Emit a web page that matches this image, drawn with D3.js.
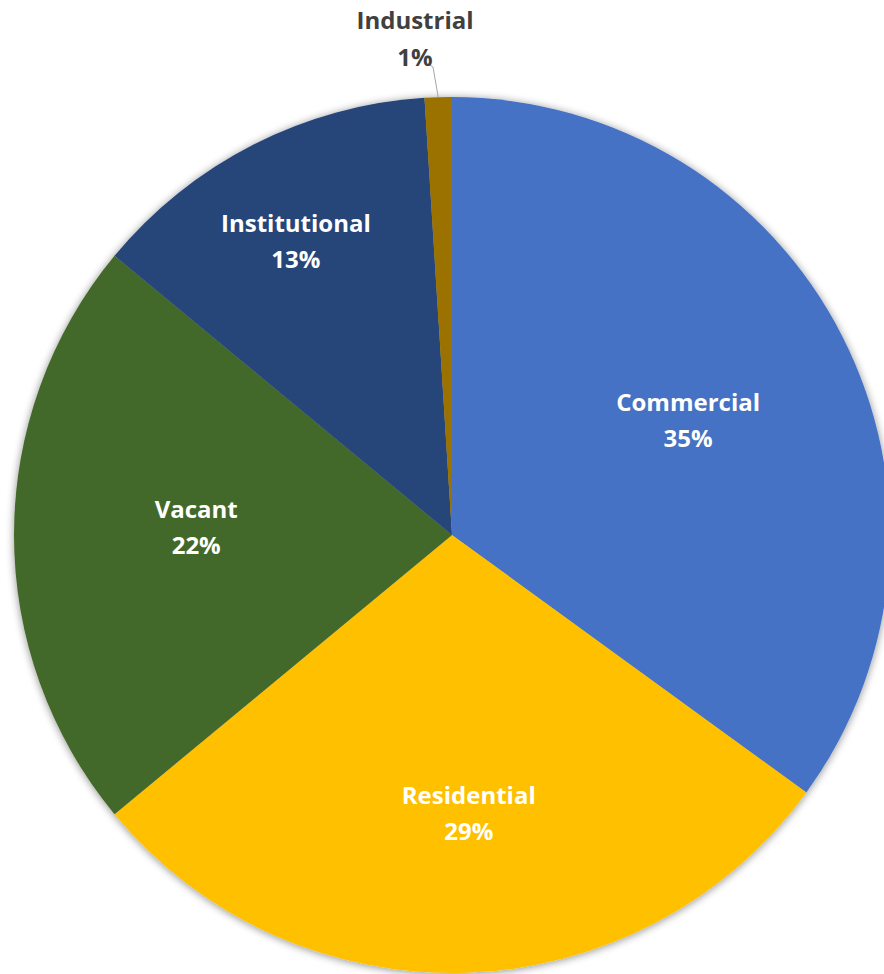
<!DOCTYPE html>
<html><head><meta charset="utf-8">
<script src="https://cdn.jsdelivr.net/npm/d3@7/dist/d3.min.js"></script>
<style>html,body{margin:0;padding:0;background:#fff;}svg{display:block;}</style>
</head><body>
<svg id="chart" width="884" height="974"></svg>
<script>
const categories = ["Commercial", "Residential", "Vacant", "Institutional", "Industrial"];
const values = [35, 29, 22, 13, 1];
const colors = ["#4472C4", "#FFC000", "#43682B", "#264478", "#9B7100"];

const W = 884, H = 974;
const cx = 452, cy = 535, R = 438;
// label layout (radius fraction and pixel nudge) – presentation only
const labelFrac = [0.6, 0.635, 0.6, 0.76];
const labelNudge = [[2,5],[8,1],[7,-7],[-5,3]];
const fontFam = "'Open Sans', 'DejaVu Sans', sans-serif";
const fs = 24;

const svg = d3.select("#chart");
const defs = svg.append("defs");
const f = defs.append("filter").attr("id","sh").attr("x","-10%").attr("y","-10%").attr("width","120%").attr("height","120%");
f.append("feGaussianBlur").attr("in","SourceAlpha").attr("stdDeviation",4).attr("result","b");
f.append("feOffset").attr("in","b").attr("dx",0).attr("dy",1).attr("result","o");
f.append("feComponentTransfer").attr("in","o").attr("result","o2").append("feFuncA").attr("type","linear").attr("slope",0.45);
const m = f.append("feMerge"); m.append("feMergeNode").attr("in","o2"); m.append("feMergeNode").attr("in","SourceGraphic");

const data = categories.map((c,i)=>({name:c, value:values[i], color:colors[i]}));
const pie = d3.pie().value(d=>d.value).sort(null);
const arcs = pie(data);
const arc = d3.arc().innerRadius(0).outerRadius(R);

const g = svg.append("g").attr("transform",`translate(${cx},${cy})`);
g.append("g").attr("filter","url(#sh)").selectAll("path").data(arcs).join("path")
  .attr("d",arc).attr("fill",d=>d.data.color);

// inner labels
arcs.forEach((a,i)=>{
  if(i>=4) return;
  const la = d3.arc().innerRadius(R*labelFrac[i]).outerRadius(R*labelFrac[i]);
  let [x,y] = la.centroid(a);
  x += labelNudge[i][0]; y += labelNudge[i][1];
  const t = g.append("text").attr("text-anchor","middle").attr("fill","#fff")
    .attr("font-family",fontFam).attr("font-weight",700).attr("font-size",fs);
  t.append("tspan").attr("x",x).attr("y",y-18).attr("dy","0.35em").text(a.data.name);
  t.append("tspan").attr("x",x).attr("y",y+18).attr("dy","0.35em").text(Math.round(a.data.value)+"%");
});

// outside label for Industrial with leader line
const ind = arcs[4];
const mid = (ind.startAngle+ind.endAngle)/2;
const edge = [Math.sin(mid)*R, -Math.cos(mid)*R];
const lx = 415-cx, ly = 21-cy;
g.append("polyline")
  .attr("points",[[lx+15, ly+44],[lx+18,ly+46],edge].map(p=>p.join(",")).join(" "))
  .attr("fill","none").attr("stroke","#A6A6A6").attr("stroke-width",1);
const ti = g.append("text").attr("text-anchor","middle").attr("fill","#404040")
  .attr("font-family",fontFam).attr("font-weight",700).attr("font-size",fs);
ti.append("tspan").attr("x",lx).attr("y",ly).attr("dy","0.35em").text(ind.data.name);
ti.append("tspan").attr("x",lx).attr("y",ly+37).attr("dy","0.35em").text(Math.round(ind.data.value)+"%");
</script>
</body></html>
